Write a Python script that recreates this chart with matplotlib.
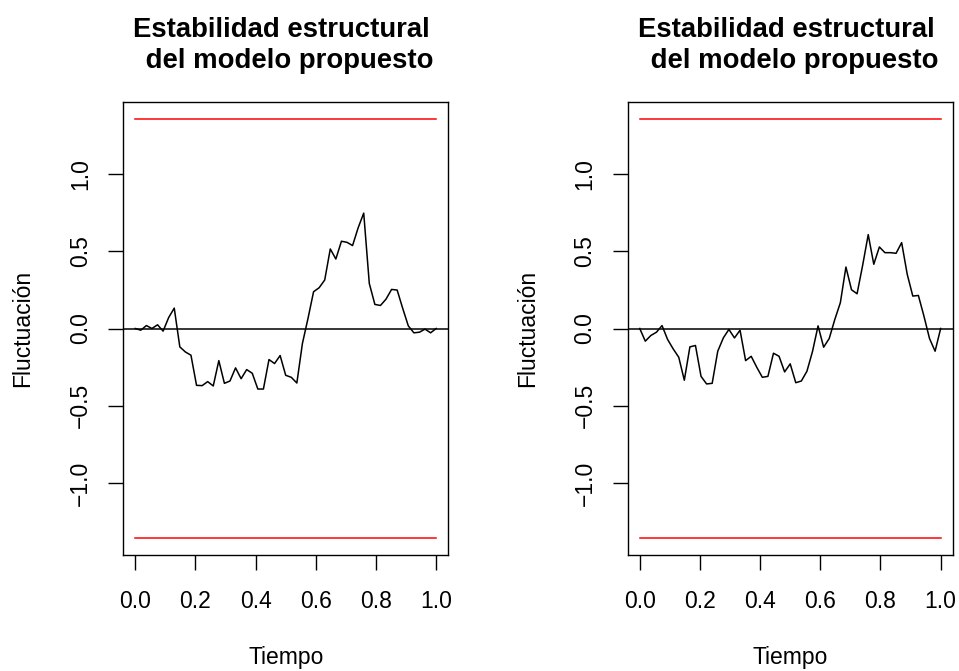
import matplotlib
matplotlib.use("Agg")
import matplotlib.pyplot as plt
import numpy as np

plt.rcParams["font.family"] = ["Liberation Sans", "DejaVu Sans"]

W, H = 959, 671

# empirical fluctuation process (55 points over [0, 1])
left_fluct = [0.0, -0.011, 0.019, 0.0, 0.024, -0.017, 0.071, 0.132, -0.119, -0.152,
              -0.173, -0.368, -0.370, -0.344, -0.372, -0.208, -0.355, -0.340, -0.255, -0.325,
              -0.266, -0.290, -0.392, -0.392, -0.201, -0.227, -0.175, -0.303, -0.316, -0.353,
              -0.097, 0.065, 0.238, 0.264, 0.314, 0.515, 0.450, 0.565, 0.558, 0.537,
              0.652, 0.747, 0.292, 0.156, 0.149, 0.190, 0.253, 0.249, 0.130, 0.017,
              -0.028, -0.024, -0.004, -0.028, 0.0]
right_fluct = [0.0, -0.082, -0.045, -0.024, 0.019, -0.071, -0.132, -0.186, -0.335, -0.119,
               -0.110, -0.310, -0.359, -0.355, -0.147, -0.061, -0.006, -0.061, -0.011, -0.208,
               -0.180, -0.251, -0.316, -0.310, -0.160, -0.180, -0.281, -0.229, -0.351, -0.340,
               -0.277, -0.149, 0.017, -0.121, -0.065, 0.058, 0.167, 0.398, 0.251, 0.225,
               0.409, 0.608, 0.416, 0.528, 0.491, 0.491, 0.487, 0.556, 0.351, 0.210,
               0.214, 0.080, -0.065, -0.147, 0.0]
boundary = 1.358

title_lines = ["Estabilidad estructural", " del modelo propuesto"]
xticks = [0.0, 0.2, 0.4, 0.6, 0.8, 1.0]
yticks = [-1.0, -0.5, 0.0, 0.5, 1.0]

fs = 16.5
fig = plt.figure(figsize=(W / 100, H / 100), dpi=100)

for i, vals in enumerate([left_fluct, right_fluct]):
    x0 = 123.2 + i * 504.5
    ax = fig.add_axes([x0 / W, 116 / H, 325 / W, 453 / H])
    t = np.linspace(0, 1, len(vals))
    ax.plot(t, vals, color="black", lw=1.1)
    ax.plot([0, 1], [boundary, boundary], color="red", lw=1.1)
    ax.plot([0, 1], [-boundary, -boundary], color="red", lw=1.1)
    ax.axhline(0, color="black", lw=1.1)
    ax.set_xlim(-0.04, 1.04)
    ax.set_ylim(-boundary * 1.08, boundary * 1.08)
    ax.set_xticks(xticks)
    ax.set_xticklabels([f"{v:.1f}" for v in xticks])
    ax.set_yticks(yticks)
    ax.set_yticklabels([f"{v:.1f}".replace("-", "\u2212") for v in yticks])
    ax.tick_params(axis="both", direction="out", length=10.5, width=1.0,
                   labelsize=fs, color="black")
    ax.tick_params(axis="x", pad=15)
    ax.tick_params(axis="y", pad=12, labelrotation=90)
    for lab in ax.get_yticklabels():
        lab.set_va("center")
    for s in ax.spines.values():
        s.set_linewidth(1.0)
    ax.set_xlabel("Tiempo", fontsize=fs, labelpad=23.5)
    ax.set_ylabel("Fluctuación", fontsize=fs, labelpad=25)
    cx = x0 + 162.5
    fig.text((cx - 4) / W, 1 - 36.7 / H, title_lines[0], ha="center", va="baseline",
             fontsize=19.8, fontweight="bold")
    fig.text((cx + 0.5) / W, 1 - 67.5 / H, title_lines[1], ha="center", va="baseline",
             fontsize=19.8, fontweight="bold")

fig.savefig("out.png", dpi=100)
